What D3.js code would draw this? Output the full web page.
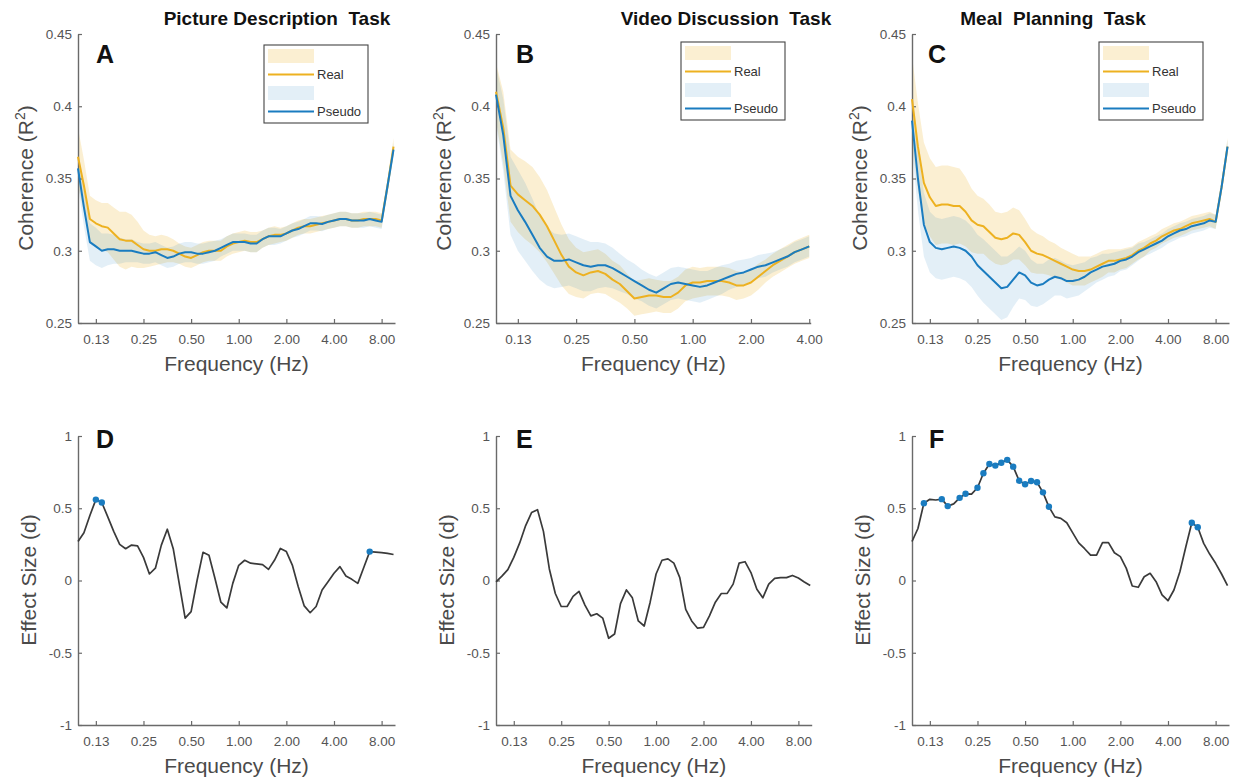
<!DOCTYPE html>
<html><head><meta charset="utf-8">
<script src="https://cdn.jsdelivr.net/npm/d3@7"></script>
<style>
body{margin:0;background:#fff;}
svg{display:block;font-family:"Liberation Sans",Arial,Helvetica,sans-serif;}
</style>
</head><body>
<svg id="chart" width="1242" height="783"></svg>
<script>
// ---------------- DATA ----------------
const freqs = [0.0964,0.1051,0.1146,0.125,0.1363,0.1487,0.1621,0.1768,0.1928,0.2102,0.2293,
  0.25,0.2726,0.2973,0.3242,0.3536,0.3855,0.4204,0.4585,
  0.5,0.5453,0.5946,0.6484,0.7071,0.7711,0.8409,0.917,
  1,1.0905,1.1892,1.2968,1.4142,1.5422,1.6818,1.834,
  2,2.181,2.378,2.594,2.828,3.084,3.364,3.668,
  4,4.362,4.757,5.187,5.657,6.169,6.727,7.336,
  8,8.724,9.514];

const xTickValues = [0.125,0.25,0.5,1,2,4,8];
const xTickLabels = ["0.13","0.25","0.50","1.00","2.00","4.00","8.00"];
const cohTickValues = [0.25,0.3,0.35,0.4,0.45];
const cohTickLabels = ["0.25","0.3","0.35","0.4","0.45"];
const effTickValues = [-1,-0.5,0,0.5,1];
const effTickLabels = ["-1","-0.5","0","0.5","1"];
const taskTitles = ["Picture Description  Task","Video Discussion  Task","Meal  Planning  Task"];
const panelLetters = ["A","B","C","D","E","F"];
const seriesNames = ["Real","Pseudo"];

// Panel A – Picture Description (coherence)
const realA = [0.365,0.345,0.322,0.319,0.317,0.316,0.312,0.308,0.307,0.307,0.304,0.301,0.300,0.300,0.301,0.301,0.300,0.298,0.296,0.295,0.297,0.299,0.300,0.300,0.300,0.303,0.305,0.306,0.307,0.306,0.306,0.308,0.310,0.311,0.311,0.312,0.314,0.316,0.317,0.317,0.318,0.319,0.320,0.321,0.322,0.322,0.321,0.321,0.322,0.322,0.322,0.321,0.345,0.372];
const pseudoA = [0.357,0.330,0.306,0.303,0.300,0.301,0.301,0.300,0.300,0.300,0.299,0.298,0.298,0.299,0.297,0.295,0.296,0.298,0.299,0.299,0.298,0.298,0.299,0.300,0.302,0.304,0.306,0.306,0.306,0.305,0.305,0.308,0.310,0.310,0.310,0.312,0.314,0.315,0.317,0.319,0.319,0.3185,0.320,0.321,0.322,0.322,0.321,0.321,0.321,0.322,0.321,0.320,0.345,0.370];
const realErrA = [0.020,0.018,0.016,0.016,0.016,0.017,0.018,0.019,0.020,0.018,0.016,0.013,0.011,0.010,0.010,0.009,0.008,0.007,0.007,0.007,0.007,0.007,0.007,0.007,0.007,0.007,0.007,0.007,0.007,0.007,0.007,0.006,0.006,0.006,0.005,0.005,0.005,0.005,0.005,0.005,0.005,0.005,0.005,0.005,0.005,0.005,0.005,0.005,0.005,0.005,0.005,0.005,0.005,0.006];
const pseudoErrA = [0.012,0.013,0.013,0.013,0.012,0.011,0.010,0.009,0.008,0.008,0.007,0.007,0.007,0.007,0.007,0.007,0.007,0.007,0.007,0.007,0.007,0.007,0.007,0.007,0.006,0.006,0.006,0.006,0.006,0.006,0.006,0.006,0.006,0.006,0.005,0.005,0.005,0.005,0.005,0.005,0.005,0.005,0.005,0.005,0.005,0.005,0.005,0.005,0.005,0.005,0.005,0.005,0.005,0.005];

// Panel B – Video Discussion (coherence, up to 4 Hz)
const realB = [0.410,0.385,0.345,0.339,0.335,0.331,0.325,0.317,0.307,0.297,0.289,0.285,0.283,0.285,0.286,0.284,0.280,0.277,0.272,0.267,0.268,0.269,0.269,0.268,0.268,0.271,0.276,0.278,0.278,0.279,0.279,0.279,0.278,0.276,0.276,0.278,0.282,0.286,0.290,0.293,0.296,0.299,0.301,0.303];
const pseudoB = [0.408,0.380,0.338,0.328,0.320,0.311,0.302,0.296,0.293,0.293,0.294,0.292,0.290,0.289,0.290,0.290,0.288,0.285,0.282,0.279,0.276,0.273,0.271,0.274,0.277,0.278,0.277,0.276,0.275,0.276,0.278,0.280,0.282,0.284,0.285,0.287,0.289,0.290,0.292,0.294,0.296,0.299,0.301,0.303];
const realErrB = [0.020,0.025,0.025,0.026,0.027,0.027,0.026,0.025,0.023,0.021,0.019,0.017,0.016,0.015,0.015,0.014,0.013,0.013,0.012,0.012,0.012,0.012,0.011,0.011,0.011,0.011,0.011,0.011,0.010,0.010,0.010,0.010,0.010,0.010,0.009,0.009,0.009,0.008,0.008,0.008,0.008,0.008,0.008,0.008];
const pseudoErrB = [0.020,0.025,0.027,0.028,0.027,0.025,0.022,0.020,0.019,0.018,0.018,0.018,0.018,0.017,0.016,0.015,0.014,0.013,0.012,0.012,0.011,0.011,0.011,0.011,0.011,0.011,0.011,0.011,0.011,0.010,0.010,0.010,0.009,0.009,0.009,0.008,0.008,0.008,0.007,0.007,0.007,0.007,0.007,0.007];

// Panel C – Meal Planning (coherence)
const realC = [0.405,0.372,0.347,0.337,0.331,0.332,0.332,0.331,0.331,0.327,0.321,0.318,0.317,0.313,0.309,0.308,0.309,0.312,0.311,0.306,0.300,0.298,0.297,0.295,0.293,0.291,0.289,0.287,0.286,0.286,0.287,0.289,0.291,0.293,0.293,0.294,0.295,0.297,0.300,0.302,0.305,0.307,0.310,0.312,0.314,0.315,0.317,0.319,0.320,0.321,0.322,0.320,0.344,0.372];
const pseudoC = [0.390,0.350,0.318,0.306,0.302,0.301,0.302,0.303,0.302,0.300,0.296,0.290,0.286,0.282,0.278,0.274,0.275,0.280,0.285,0.283,0.278,0.276,0.277,0.280,0.282,0.281,0.279,0.279,0.280,0.282,0.285,0.287,0.289,0.290,0.291,0.293,0.294,0.296,0.299,0.301,0.303,0.305,0.307,0.310,0.312,0.314,0.315,0.317,0.318,0.319,0.321,0.320,0.344,0.372];
const realErrC = [0.030,0.030,0.028,0.027,0.027,0.027,0.027,0.027,0.026,0.024,0.022,0.020,0.019,0.019,0.018,0.018,0.018,0.018,0.017,0.016,0.015,0.014,0.013,0.012,0.012,0.011,0.011,0.011,0.010,0.010,0.009,0.009,0.009,0.008,0.008,0.007,0.007,0.006,0.006,0.006,0.005,0.005,0.005,0.005,0.005,0.005,0.005,0.005,0.005,0.005,0.005,0.005,0.005,0.006];
const pseudoErrC = [0.020,0.022,0.022,0.021,0.021,0.021,0.021,0.021,0.021,0.021,0.021,0.021,0.022,0.022,0.022,0.022,0.021,0.019,0.018,0.017,0.016,0.015,0.014,0.014,0.013,0.012,0.012,0.011,0.011,0.010,0.010,0.009,0.009,0.008,0.008,0.007,0.007,0.006,0.006,0.005,0.005,0.005,0.005,0.005,0.005,0.005,0.005,0.005,0.005,0.005,0.005,0.005,0.005,0.005];

// Panels D–F – effect sizes (Cohen's d)
const effD = [0.27,0.33,0.45,0.56,0.54,0.44,0.34,0.25,0.22,0.245,0.24,0.16,0.045,0.085,0.245,0.355,0.22,-0.02,-0.26,-0.215,0.0,0.195,0.175,0.015,-0.15,-0.19,-0.02,0.105,0.14,0.12,0.115,0.11,0.077,0.14,0.222,0.2,0.107,-0.043,-0.176,-0.223,-0.18,-0.066,-0.008,0.05,0.096,0.031,0.008,-0.02,0.09,0.2,0.197,0.193,0.188,0.18];
const effE = [-0.01,0.03,0.075,0.16,0.26,0.38,0.47,0.49,0.34,0.08,-0.09,-0.18,-0.18,-0.11,-0.075,-0.17,-0.245,-0.23,-0.26,-0.40,-0.37,-0.16,-0.065,-0.12,-0.28,-0.315,-0.15,0.045,0.14,0.15,0.12,0.02,-0.2,-0.28,-0.33,-0.325,-0.245,-0.15,-0.09,-0.089,-0.025,0.12,0.13,0.055,-0.06,-0.12,-0.025,0.015,0.02,0.02,0.035,0.017,-0.01,-0.035];
const effF = [0.27,0.36,0.535,0.562,0.557,0.563,0.515,0.53,0.572,0.60,0.598,0.642,0.742,0.806,0.795,0.815,0.835,0.788,0.69,0.666,0.689,0.68,0.61,0.51,0.44,0.43,0.40,0.33,0.26,0.22,0.176,0.176,0.262,0.262,0.192,0.165,0.084,-0.038,-0.047,0.026,0.05,-0.008,-0.1,-0.14,-0.066,0.061,0.234,0.40,0.368,0.257,0.183,0.119,0.045,-0.036];
const sigD = [0.125,0.1363,6.727];
const sigE = [];
const sigF = [0.1146,0.1487,0.1621,0.1928,0.2102,0.25,0.2726,0.2973,0.3242,0.3536,0.3855,0.4204,0.4585,0.5,0.5453,0.5946,0.6484,0.7071,5.657,6.169];

// ---------------- STYLE / LAYOUT ----------------
const ORANGE = "#EDB120", BLUE = "#1a7cc0";
const AXIS = "#6a6a6a", TICKTXT = "#555", LABEL = "#4a4a4a";
const svg = d3.select("#chart");

const topPanels = [
  {x0:78,  x1:395,   xmax:9.72, ticks:7, real:realA, pseudo:pseudoA, rErr:realErrA, pErr:pseudoErrA, legY:45, legX:264, letterX:96, titleX:277},
  {x0:496, x1:810.7, xmax:4.07, ticks:6, real:realB, pseudo:pseudoB, rErr:realErrB, pErr:pseudoErrB, legY:42, legX:681, letterX:516, titleX:726},
  {x0:912, x1:1229,  xmax:9.72, ticks:7, real:realC, pseudo:pseudoC, rErr:realErrC, pErr:pseudoErrC, legY:42, legX:1099, letterX:928, titleX:1053}
];
const botPanels = [
  {x0:78,  x1:395,   xmax:9.72, eff:effD, sig:sigD, letterX:96},
  {x0:496, x1:811.7, xmax:9.72, eff:effE, sig:sigE, letterX:516},
  {x0:912, x1:1229,  xmax:9.72, eff:effF, sig:sigF, letterX:929}
];

function styleAxis(g){
  g.select(".domain").attr("stroke", AXIS).attr("stroke-width", 1.4);
  g.selectAll(".tick line").attr("stroke", AXIS).attr("stroke-width", 1.2);
  g.selectAll(".tick text").attr("fill", TICKTXT).attr("font-size", 13.5)
    .attr("font-family", '"Liberation Sans",Arial,sans-serif');
}

function drawAxes(x, y, yTicks, yLabels, yRange, nX, labelY){
  const tv = xTickValues.slice(0, nX);
  const gx = svg.append("g").attr("transform", `translate(0,${yRange[0]})`)
    .call(d3.axisBottom(x).tickValues(tv).tickFormat((d,i)=>xTickLabels[i])
      .tickSizeInner(-4).tickSizeOuter(0).tickPadding(11));
  styleAxis(gx);
  const gy = svg.append("g").attr("transform", `translate(${x.range()[0]},0)`)
    .call(d3.axisLeft(y).tickValues(yTicks).tickFormat((d,i)=>yLabels[i])
      .tickSizeInner(-4).tickSizeOuter(0).tickPadding(6));
  styleAxis(gy);
  const xr = x.range();
  svg.append("text").attr("x", (xr[0]+xr[1])/2).attr("y", labelY)
    .attr("text-anchor","middle").attr("font-size",21).attr("fill",LABEL)
    .text("Frequency (Hz)");
}

// ---- top row ----
const yCoh = d3.scaleLinear().domain([0.25,0.45]).range([323,34]);
topPanels.forEach((p, pi) => {
  const x = d3.scaleLog().domain([freqs[0], p.xmax]).range([p.x0, p.x1]);
  const n = p.real.length;
  const rows = d3.range(n).map(i => ({f:freqs[i], r:p.real[i], ps:p.pseudo[i], re:p.rErr[i], pe:p.pErr[i]}));

  const areaR = d3.area().x(d=>x(d.f)).y0(d=>yCoh(d.r-d.re)).y1(d=>yCoh(d.r+d.re));
  const areaP = d3.area().x(d=>x(d.f)).y0(d=>yCoh(d.ps-d.pe)).y1(d=>yCoh(d.ps+d.pe));
  svg.append("path").datum(rows).attr("d", areaR).attr("fill", ORANGE).attr("fill-opacity", 0.2);
  svg.append("path").datum(rows).attr("d", areaP).attr("fill", BLUE).attr("fill-opacity", 0.12);

  drawAxes(x, yCoh, cohTickValues, cohTickLabels, [323], p.ticks, 371);

  const lineR = d3.line().x(d=>x(d.f)).y(d=>yCoh(d.r));
  const lineP = d3.line().x(d=>x(d.f)).y(d=>yCoh(d.ps));
  svg.append("path").datum(rows).attr("d", lineR).attr("fill","none").attr("stroke", ORANGE).attr("stroke-width", 2).attr("stroke-linejoin","round");
  svg.append("path").datum(rows).attr("d", lineP).attr("fill","none").attr("stroke", BLUE).attr("stroke-width", 2).attr("stroke-linejoin","round");

  const yl = svg.append("text").attr("transform", `translate(${p.x0-45},178) rotate(-90)`)
    .attr("text-anchor","middle").attr("font-size",21).attr("fill",LABEL);
  yl.append("tspan").text("Coherence (R");
  yl.append("tspan").attr("font-size",14).attr("dy",-8).text("2");
  yl.append("tspan").attr("dy",8).text(")");

  svg.append("text").attr("x", p.titleX).attr("y", 25).attr("text-anchor","middle")
    .attr("font-size",19).attr("font-weight","bold").attr("fill","#111")
    .style("white-space","pre").text(taskTitles[pi]);
  svg.append("text").attr("x", p.letterX).attr("y", 63).attr("font-size",25)
    .attr("font-weight","bold").attr("fill","#111").text(panelLetters[pi]);

  const lg = svg.append("g").attr("transform", `translate(${p.legX},${p.legY})`);
  lg.append("rect").attr("x",0).attr("y",0).attr("width",104).attr("height",78)
    .attr("fill","#fff").attr("stroke","#444").attr("stroke-width",1.1);
  const legItems = [{c:ORANGE, op:0.2, name:seriesNames[0]}, {c:BLUE, op:0.12, name:seriesNames[1]}];
  legItems.forEach((it, j) => {
    const oy = j*37;
    lg.append("rect").attr("x",4).attr("y",4+oy).attr("width",46).attr("height",14)
      .attr("fill",it.c).attr("fill-opacity",it.op);
    lg.append("line").attr("x1",4).attr("x2",50).attr("y1",29.5+oy).attr("y2",29.5+oy)
      .attr("stroke",it.c).attr("stroke-width",1.9);
    lg.append("text").attr("x",53).attr("y",34+oy).attr("font-size",13).attr("fill","#333").text(it.name);
  });
});

// ---- bottom row ----
const yEff = d3.scaleLinear().domain([-1,1]).range([725,436]);
botPanels.forEach((p, pi) => {
  const x = d3.scaleLog().domain([freqs[0], p.xmax]).range([p.x0, p.x1]);
  const rows = p.eff.map((v,i)=>({f:freqs[i], v}));
  drawAxes(x, yEff, effTickValues, effTickLabels, [725], 7, 773);

  svg.append("path").datum(rows).attr("d", d3.line().x(d=>x(d.f)).y(d=>yEff(d.v)))
    .attr("fill","none").attr("stroke","#3a3a3a").attr("stroke-width",1.7).attr("stroke-linejoin","round");

  const sigRows = p.sig.map(f => rows[freqs.indexOf(f)]);
  svg.append("g").selectAll("circle").data(sigRows).join("circle")
    .attr("cx", d=>x(d.f)).attr("cy", d=>yEff(d.v)).attr("r", 3.2).attr("fill", BLUE);

  svg.append("text").attr("transform", `translate(${p.x0-42},580) rotate(-90)`)
    .attr("text-anchor","middle").attr("font-size",21).attr("fill",LABEL).text("Effect Size (d)");

  svg.append("text").attr("x", p.letterX).attr("y", 448).attr("font-size",25)
    .attr("font-weight","bold").attr("fill","#111").text(panelLetters[pi+3]);
});
</script>
</body></html>
